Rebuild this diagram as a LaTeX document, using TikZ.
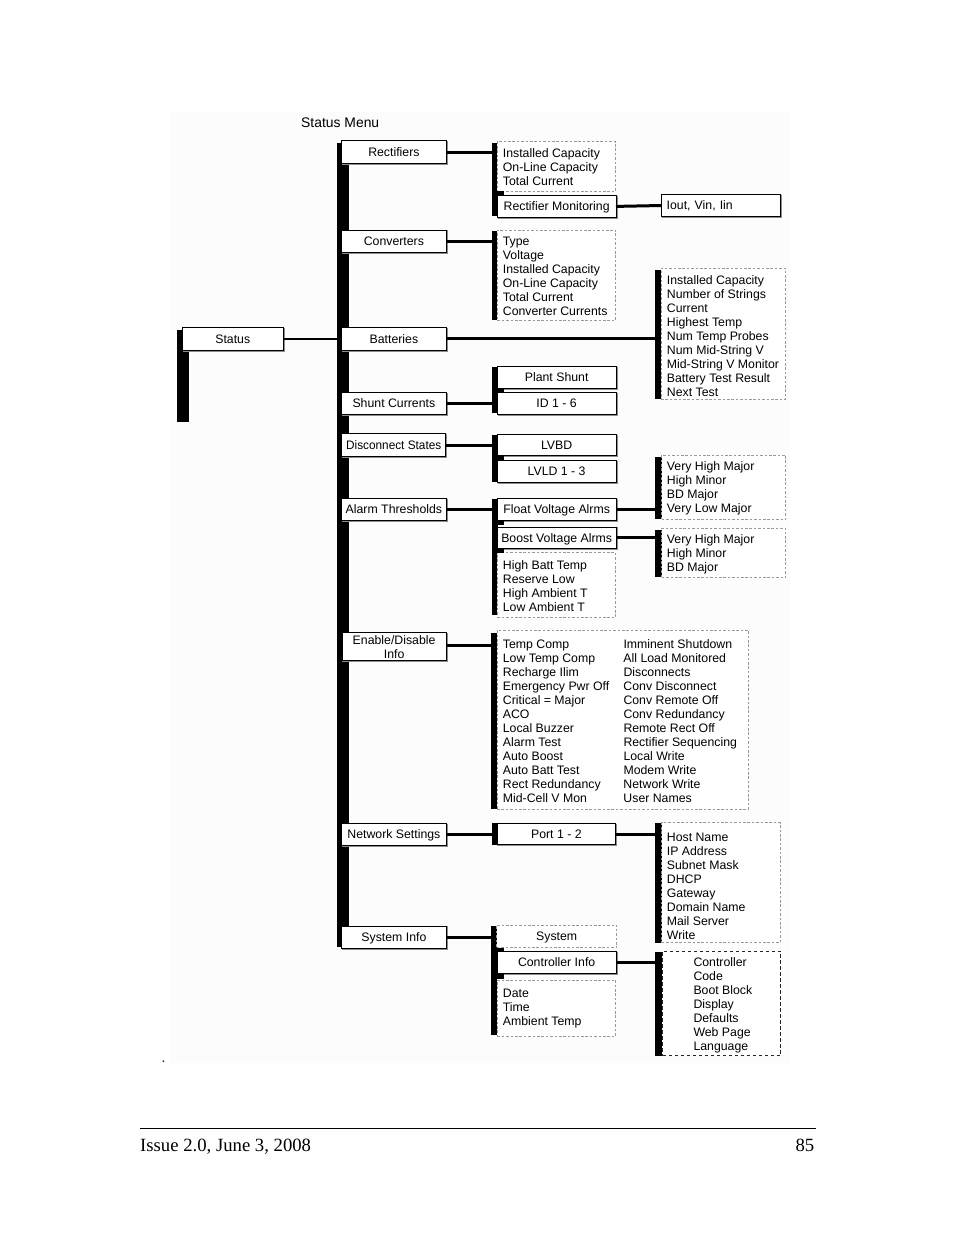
\documentclass[tikz,border=0pt]{standalone}
\usepackage{fontspec}
\setmainfont{Liberation Sans}
\newfontfamily\seriffont{Liberation Serif}
\begin{document}
\begin{tikzpicture}[x=1pt,y=-1pt,
  fnt/.style={font=\fontsize{12.3}{14}\selectfont},
  sbox/.style={draw=black, fill=white, line width=0.9pt, inner sep=0pt, outer sep=0pt, fnt,
     text height=8.9pt, text depth=0pt,
     preaction={draw=black!45, line width=1.2pt, transform canvas={shift={(1pt,-1pt)}}}},
  lvltwo/.style={sbox, minimum width=104.3pt, minimum height=22.3pt},
  lvlthree/.style={sbox, minimum width=118.7pt, minimum height=21.6pt},
  dbox/.style={draw=black!40, fill=white, line width=0.7pt, dash pattern=on 2.6pt off 1.8pt, inner sep=0pt, outer sep=0pt},
  dboxdark/.style={dbox, draw=black!85, line width=0.9pt, dash pattern=on 3.6pt off 2.4pt},
  lst/.style={fnt, align=left, inner sep=0pt, anchor=west},
  bar/.style={fill=black, inner sep=0pt, outer sep=0pt, anchor=north west, minimum width=6pt},
  widebar/.style={bar, minimum width=6.7pt},
  conn/.style={line width=3pt},
  notch/.style={fill=black}
]
\useasboundingbox (0,0) rectangle (954,1235);
\fill[black!1] (171,112) rectangle (790,1063);

\node[anchor=west, font=\fontsize{13.9}{16}\selectfont, inner sep=0pt] (title) at (301,122.8) {Status Menu};

% bars
\node[bar, minimum width=12.6pt, minimum height=91.7pt] (rootbar) at (176.7,330) {};
\node[bar, minimum width=12.3pt, minimum height=804pt] (mainbar) at (336.7,142.7) {};
\node[bar, minimum height=73pt] (rbar) at (491.7,142.7) {};
\node[bar, minimum height=89pt] (cbar) at (491.7,231) {};
\node[bar, minimum height=46.6pt] (shbar) at (491.7,366.7) {};
\node[bar, minimum height=47.3pt] (dbar) at (491.7,435) {};
\node[bar, minimum height=115.7pt] (abar) at (491.7,499.3) {};
\node[bar, minimum height=176.6pt] (ebar) at (491.2,632.7) {};
\node[bar, minimum height=21.7pt] (pbar) at (491.7,823.3) {};
\node[bar, minimum height=109pt] (sybar) at (491.2,926) {};
\node[widebar, minimum height=129.3pt] (battbar) at (655,270) {};
\node[widebar, minimum height=61.7pt] (fbar) at (655,457.3) {};
\node[widebar, minimum height=47.3pt] (bbar) at (655,530) {};
\node[widebar, minimum height=119.4pt] (nbar) at (655,823.3) {};
\node[widebar, minimum height=103.4pt] (cibar) at (655,952.3) {};

% root and level two
\node[sbox, minimum width=101pt, minimum height=22.3pt] (status) at (232.8,338.8) {Status};
\node[lvltwo] (rect) at (393.9,152) {Rectifiers};
\node[lvltwo] (conv) at (393.9,241.2) {Converters};
\node[lvltwo] (batt) at (393.9,338.8) {Batteries};
\node[lvltwo] (shunt) at (393.9,403.3) {Shunt Currents};
\node[lvltwo] (disc) at (393.7,445) {\scalebox{0.96}[1]{Disconnect States}};
\node[lvltwo] (alarm) at (393.9,509.5) {Alarm Thresholds};
\node[lvltwo, minimum height=28pt, align=center, text height=, text depth=] (enab) at (394.1,646.7) {Enable/Disable\\Info};
\node[lvltwo] (net) at (393.9,834.5) {Network Settings};
\node[lvltwo] (sys) at (393.9,937.2) {System Info};

% level three and four
\node[dbox, minimum width=118.4pt, minimum height=49.3pt] (rcap) at (556.5,166.35) {};
\node[lst] (rcapt) at (502.7,167.2) {Installed Capacity\\On-Line Capacity\\Total Current};
\node[lvlthree] (rmon) at (556.65,206.4) {Rectifier Monitoring};
\node[lvlthree, minimum width=118.3pt, text width=108.3pt, align=left] (iout) at (720.85,205.5) {Iout, Vin, Iin};

\node[dbox, minimum width=118.4pt, minimum height=90pt] (convl) at (556.5,275) {};
\node[lst] (convlt) at (502.7,276.3) {Type\\Voltage\\Installed Capacity\\On-Line Capacity\\Total Current\\Converter Currents};

\node[dbox, minimum width=124.7pt, minimum height=131pt] (battl) at (723.35,333.8) {};
\node[lst] (battlt) at (666.7,335.8) {Installed Capacity\\Number of Strings\\Current\\Highest Temp\\Num Temp Probes\\Num Mid-String V\\Mid-String V Monitor\\Battery Test Result\\Next Test};

\node[lvlthree] (plant) at (556.65,377.5) {Plant Shunt};
\node[lvlthree] (idsix) at (556.65,403.3) {ID 1 - 6};
\node[lvlthree] (lvbd) at (556.65,445) {LVBD};
\node[lvlthree] (lvld) at (556.65,471.2) {LVLD 1 - 3};
\node[lvlthree] (float) at (556.65,509.5) {Float Voltage Alrms};
\node[lvlthree] (boost) at (556.65,537.8) {Boost Voltage Alrms};
\node[dbox, minimum width=118.4pt, minimum height=64.6pt] (hbt) at (556.5,585) {};
\node[lst] (hbtt) at (502.7,586.3) {High Batt Temp\\Reserve Low\\High Ambient T\\Low Ambient T};

\node[dbox, minimum width=124pt, minimum height=64.3pt] (fl) at (723.7,487.15) {};
\node[lst] (flt) at (666.7,488.3) {Very High Major\\High Minor\\BD Major\\Very Low Major};
\node[dbox, minimum width=124pt, minimum height=49pt] (bo) at (723.7,552.8) {};
\node[lst] (bot) at (666.7,554.8) {Very High Major\\High Minor\\BD Major};

\node[dbox, minimum width=251.3pt, minimum height=179.3pt] (en) at (622.65,719.65) {};
\node[fnt, inner sep=0pt, anchor=west] (ent) at (502.7,722.4) {\begin{tabular}{@{}p{120.6pt}@{}l@{}}
Temp Comp & Imminent Shutdown\\
Low Temp Comp & All Load Monitored\\
Recharge Ilim & Disconnects\\
Emergency Pwr Off & Conv Disconnect\\
Critical = Major & Conv Remote Off\\
ACO & Conv Redundancy\\
Local Buzzer & Remote Rect Off\\
Alarm Test & Rectifier Sequencing\\
Auto Boost & Local Write\\
Auto Batt Test & Modem Write\\
Rect Redundancy & Network Write\\
Mid-Cell V Mon & User Names
\end{tabular}};

\node[lvlthree] (port) at (556.35,834) {Port 1 - 2};
\node[dbox, minimum width=118.3pt, minimum height=120pt] (nl) at (720.85,882.7) {};
\node[lst] (nlt) at (666.7,886.3) {Host Name\\IP Address\\Subnet Mask\\DHCP\\Gateway\\Domain Name\\Mail Server\\Write};

\node[dbox, minimum width=120pt, minimum height=22.7pt, fnt, text height=8.9pt, text depth=0pt] (system) at (556.7,936.35) {System};
\node[lvlthree] (cinfo) at (556.65,962.5) {Controller Info};
\node[dbox, minimum width=118.4pt, minimum height=56pt] (dt) at (556.5,1008) {};
\node[lst] (dtt) at (502.7,1008.5) {Date\\Time\\Ambient Temp};
\node[dboxdark, minimum width=118pt, minimum height=104.7pt] (ctl) at (721.7,1003.35) {};
\node[lst] (ctlt) at (693.3,1005.3) {Controller\\Code\\Boot Block\\Display\\Defaults\\Web Page\\Language};

% connectors
\draw[line width=2pt] (status.east) -- (status.east -| mainbar.west);
\draw[conn] (rect.east) -- (rect.east -| rbar.west);
\draw[conn] (conv.east) -- (conv.east -| cbar.west);
\draw[conn] (batt.east) -- (batt.east -| battbar.west);
\draw[conn] (shunt.east) -- (shunt.east -| shbar.west);
\draw[conn] (disc.east) -- (disc.east -| dbar.west);
\draw[conn] (alarm.east) -- (alarm.east -| abar.west);
\draw[conn] ([yshift=1.7pt]enab.east) -- ([yshift=1.7pt]enab.east -| ebar.west);
\draw[conn] (net.east) -- (net.east -| pbar.west);
\draw[conn] (sys.east) -- (sys.east -| sybar.west);
\draw[conn] (rmon.east) -- (iout.west);
\draw[conn] (float.east) -- (float.east -| fbar.west);
\draw[conn] (boost.east) -- (boost.east -| bbar.west);
\draw[conn] (port.east) -- (port.east -| nbar.west);
\draw[conn] (cinfo.east) -- (cinfo.east -| cibar.west);

% notches
\fill[notch] (rmon.north west) rectangle ++(6.7,-5);
\fill[notch] (idsix.north west) rectangle ++(6.7,-4);
\fill[notch] (lvld.north west) rectangle ++(6.7,-4);
\fill[notch] (float.south west) rectangle ++(6.7,5);
\fill[notch] (boost.south west) rectangle ++(6.7,4.4);
\fill[notch] (cinfo.north west) rectangle ++(6.7,-4);
\fill[notch] (cinfo.south west) rectangle ++(6.7,5.5);

% footer
\node[anchor=base, inner sep=0pt, font=\fontsize{14}{16}\selectfont] (dot) at (163.5,1062.5) {.};
\draw[line width=0.9pt] (140,1128.3) -- (816,1128.3);
\node[anchor=base west, inner sep=0pt, font=\seriffont\fontsize{18.7}{22}\selectfont] (issue) at (140,1151.7) {Issue 2.0, June 3, 2008};
\node[anchor=base east, inner sep=0pt, font=\seriffont\fontsize{18.7}{22}\selectfont] (page) at (814.5,1151.7) {85};
\end{tikzpicture}
\end{document}
